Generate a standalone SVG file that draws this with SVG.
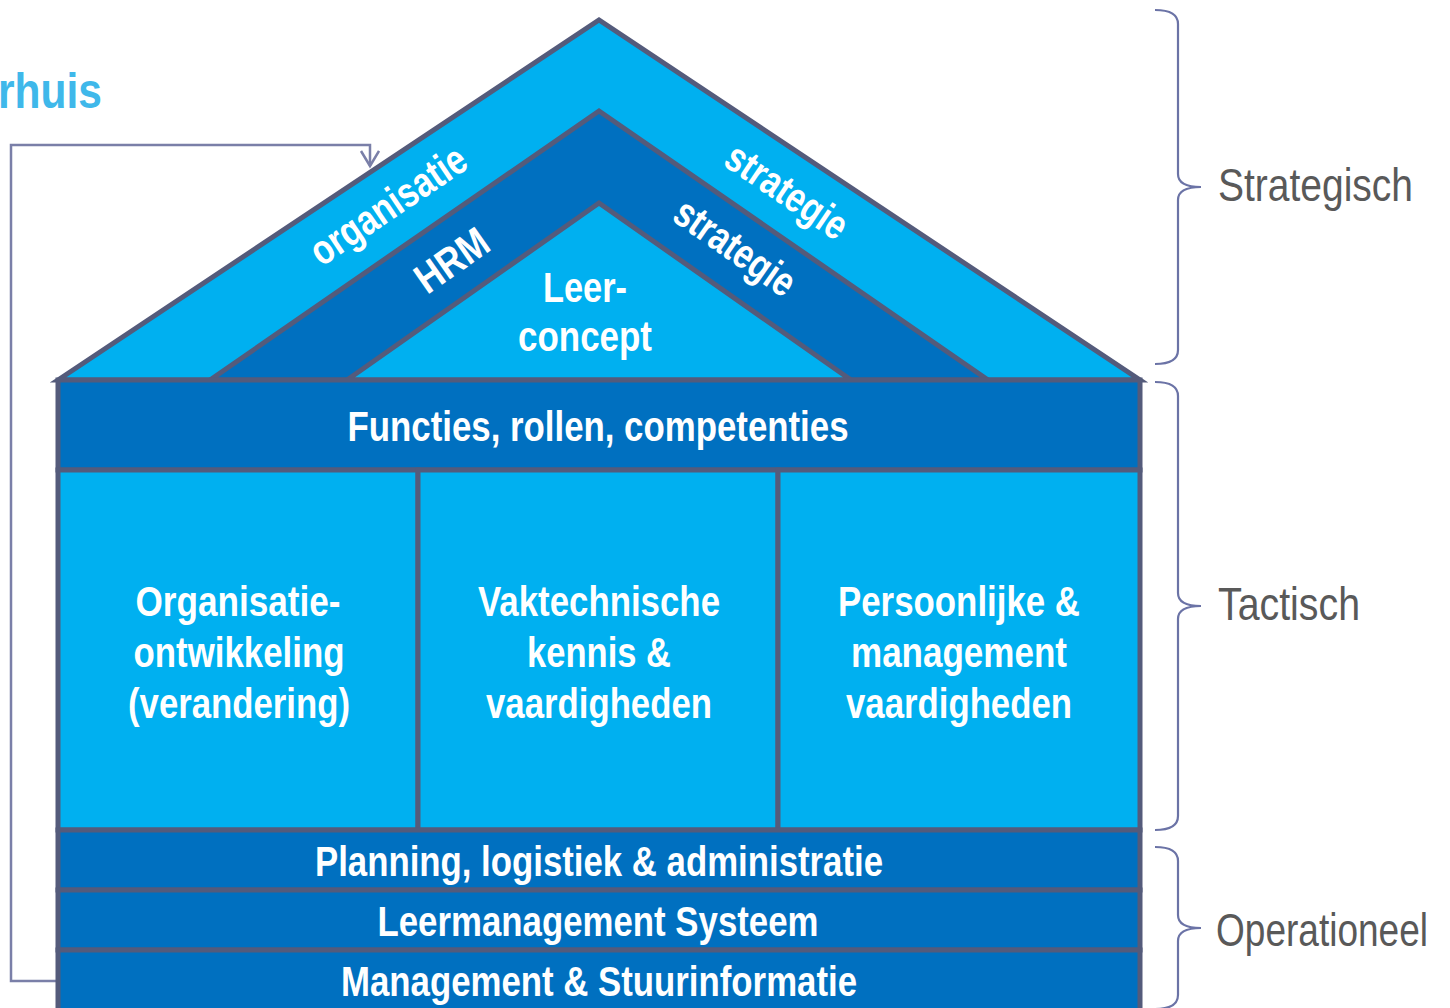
<svg xmlns="http://www.w3.org/2000/svg" width="1450" height="1008" viewBox="0 0 1450 1008">
<style>
  .light { fill: #00b0f0; stroke: #545b7b; stroke-width: 5; stroke-linejoin: miter; }
  .dark { fill: #0070c0; stroke: #545b7b; stroke-width: 5; stroke-linejoin: miter; }
  .w { fill: #ffffff; font-family: "Liberation Sans Narrow", "Liberation Sans", Arial, sans-serif; font-weight: bold; font-size: 42px; text-anchor: middle; }
  .r { fill: #ffffff; font-family: "Liberation Sans Narrow", "Liberation Sans", Arial, sans-serif; font-weight: bold; font-size: 42px; text-anchor: middle; }
  .lvl { fill: #595959; font-family: "Liberation Sans Narrow", "Liberation Sans", Arial, sans-serif; font-size: 46px; }
  .brace { fill: none; stroke: #6b73a6; stroke-width: 2.2; }
  .conn { fill: none; stroke: #7a7fa8; stroke-width: 2.5; }
</style>
<defs>
  <marker id="arrow" markerUnits="userSpaceOnUse" markerWidth="22" markerHeight="22" refX="16" refY="10" orient="auto">
    <path d="M1,1 L16,10 L1,19" fill="none" stroke="#7a7fa8" stroke-width="2.5"/>
  </marker>
</defs>
<rect width="1450" height="1008" fill="#ffffff"/>

<text id="title" x="102" y="108" font-family="Liberation Sans Narrow, Liberation Sans, Arial, sans-serif" font-weight="bold" font-size="50" fill="#3fb8ea" text-anchor="end" textLength="104" lengthAdjust="spacingAndGlyphs">rhuis</text>

<g id="connectors">
  <polyline class="conn" points="58,981 11,981 11,145 370,145 370,166" marker-end="url(#arrow)"/>
</g>

<g id="roof-organisatie">
  <polygon class="light" points="58,380 599,20 1140,380"/>
  <text class="r" transform="translate(396,217) rotate(-34)" textLength="180" lengthAdjust="spacingAndGlyphs">organisatie</text>
  <text class="r" transform="translate(779,203) rotate(34)" textLength="138" lengthAdjust="spacingAndGlyphs">strategie</text>
</g>
<g id="roof-hrm">
  <polygon class="dark" points="210,380 599,111 988,380"/>
  <text class="r" transform="translate(460,272) rotate(-35)" textLength="80" lengthAdjust="spacingAndGlyphs">HRM</text>
  <text class="r" transform="translate(727,259) rotate(35)" textLength="138" lengthAdjust="spacingAndGlyphs">strategie</text>
</g>
<g id="roof-leerconcept">
  <polygon class="light" points="347,380 599,203 851,380"/>
  <text class="w" x="585" y="302" textLength="84" lengthAdjust="spacingAndGlyphs">Leer-</text>
  <text class="w" x="585" y="351" textLength="134" lengthAdjust="spacingAndGlyphs">concept</text>
</g>

<g id="functies">
  <rect class="dark" x="58" y="380" width="1082" height="90"/>
  <text class="w" x="598" y="441" textLength="501" lengthAdjust="spacingAndGlyphs">Functies, rollen, competenties</text>
</g>
<g id="organisatieontwikkeling">
  <rect class="light" x="58" y="470" width="360" height="360"/>
  <text class="w" x="238" y="616" textLength="205" lengthAdjust="spacingAndGlyphs">Organisatie-</text>
  <text class="w" x="239" y="667" textLength="211" lengthAdjust="spacingAndGlyphs">ontwikkeling</text>
  <text class="w" x="239" y="718" textLength="222" lengthAdjust="spacingAndGlyphs">(verandering)</text>
</g>
<g id="vaktechnische">
  <rect class="light" x="418" y="470" width="360" height="360"/>
  <text class="w" x="599" y="616" textLength="242" lengthAdjust="spacingAndGlyphs">Vaktechnische</text>
  <text class="w" x="599" y="667" textLength="144" lengthAdjust="spacingAndGlyphs">kennis &amp;</text>
  <text class="w" x="599" y="718" textLength="226" lengthAdjust="spacingAndGlyphs">vaardigheden</text>
</g>
<g id="persoonlijke">
  <rect class="light" x="778" y="470" width="362" height="360"/>
  <text class="w" x="959" y="616" textLength="242" lengthAdjust="spacingAndGlyphs">Persoonlijke &amp;</text>
  <text class="w" x="959" y="667" textLength="216" lengthAdjust="spacingAndGlyphs">management</text>
  <text class="w" x="959" y="718" textLength="226" lengthAdjust="spacingAndGlyphs">vaardigheden</text>
</g>
<g id="planning">
  <rect class="dark" x="58" y="830" width="1082" height="60"/>
  <text class="w" x="599" y="876" textLength="568" lengthAdjust="spacingAndGlyphs">Planning, logistiek &amp; administratie</text>
</g>
<g id="leermanagement">
  <rect class="dark" x="58" y="890" width="1082" height="60"/>
  <text class="w" x="598" y="936" textLength="441" lengthAdjust="spacingAndGlyphs">Leermanagement Systeem</text>
</g>
<g id="management">
  <rect class="dark" x="58" y="950" width="1082" height="70"/>
  <text class="w" x="599" y="996" textLength="516" lengthAdjust="spacingAndGlyphs">Management &amp; Stuurinformatie</text>
</g>

<g id="strategisch">
  <path class="brace" d="M1155,10 Q1178,10 1178,24 L1178,174 Q1178,187 1201,187 Q1178,187 1178,200 L1178,350 Q1178,364 1155,364"/>
  <text class="lvl" x="1218" y="201" textLength="195" lengthAdjust="spacingAndGlyphs">Strategisch</text>
</g>
<g id="tactisch">
  <path class="brace" d="M1155,382 Q1178,382 1178,396 L1178,593 Q1178,606 1201,606 Q1178,606 1178,619 L1178,816 Q1178,830 1155,830"/>
  <text class="lvl" x="1218" y="620" textLength="142" lengthAdjust="spacingAndGlyphs">Tactisch</text>
</g>
<g id="operationeel">
  <path class="brace" d="M1155,847 Q1178,847 1178,861 L1178,915 Q1178,928 1201,928 Q1178,928 1178,941 L1178,995 Q1178,1009 1155,1009"/>
  <text class="lvl" x="1216" y="946" textLength="212" lengthAdjust="spacingAndGlyphs">Operationeel</text>
</g>
</svg>
